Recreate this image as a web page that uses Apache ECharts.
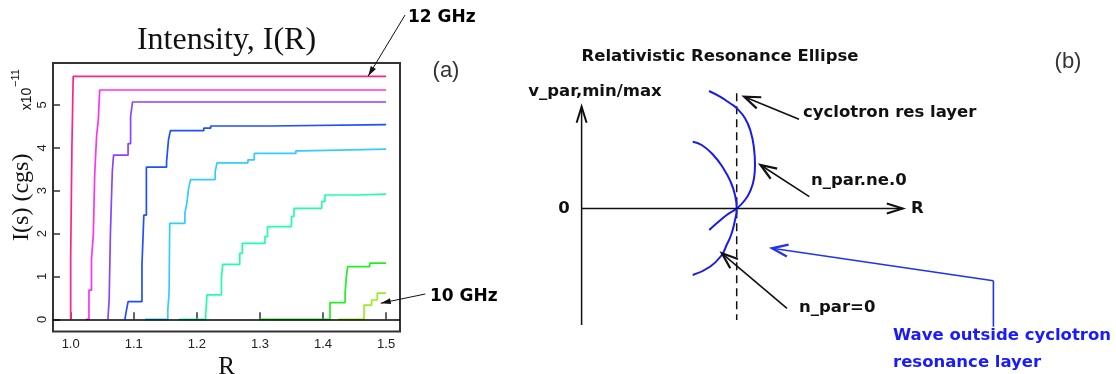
<!DOCTYPE html>
<html>
<head>
<meta charset="utf-8">
<script src="https://cdn.jsdelivr.net/npm/echarts@6/dist/echarts.min.js"></script>
<style>
html, body { margin: 0; padding: 0; background: #fff; }
#chart { width: 1116px; height: 374px; }
</style>
</head>
<body>
<div id="chart"></div>
<script>
// ---- panel (a): intensity I(R), curves from 12 GHz (top) to 10 GHz (bottom)
const xTicks = [1.0, 1.1, 1.2, 1.3, 1.4, 1.5];
const yTicks = [0, 1, 2, 3, 4, 5];

const curve1 = [[1.000, 0], [1.000, 1.42], [1.002, 4.04], [1.004, 5.67], [1.5, 5.67]];
const curve2 = [[1.024, 0], [1.029, 0.68], [1.033, 1.4], [1.036, 2.0], [1.038, 3.35], [1.041, 4.25], [1.044, 4.7], [1.046, 5.35], [1.5, 5.35]];
const curve3 = [[1.059, 0], [1.061, 0.45], [1.063, 2.0], [1.066, 3.45], [1.068, 3.83], [1.091, 4.1], [1.095, 4.73], [1.098, 5.07], [1.5, 5.07]];
const curve4 = [[1.086, 0], [1.088, 0.18], [1.091, 0.41], [1.113, 1.27], [1.116, 2.43], [1.120, 3.55], [1.152, 3.68], [1.155, 4.18], [1.158, 4.40], [1.211, 4.46], [1.222, 4.51], [1.316, 4.54], [1.5, 4.54]];
const curve5 = [[1.118, 0], [1.154, 0.22], [1.156, 0.64], [1.157, 2.24], [1.181, 2.47], [1.184, 2.7], [1.187, 3.06], [1.190, 3.26], [1.229, 3.44], [1.232, 3.65], [1.281, 3.72], [1.291, 3.87], [1.357, 3.93], [1.367, 3.97], [1.5, 3.97]];
const curve6 = [[1.172, 0], [1.214, 0.1], [1.216, 0.57], [1.239, 0.96], [1.241, 1.28], [1.268, 1.54], [1.272, 1.77], [1.308, 1.93], [1.312, 2.16], [1.350, 2.4], [1.354, 2.59], [1.398, 2.75], [1.403, 2.9], [1.453, 2.92], [1.5, 2.92]];
const curve7 = [[1.300, 0], [1.411, 0.39], [1.435, 0.61], [1.437, 1.0], [1.439, 1.23], [1.474, 1.31], [1.5, 1.31]];
const curve8 = [[1.424, 0], [1.465, 0.33], [1.477, 0.45], [1.486, 0.61], [1.5, 0.61]];

// pointer arrows of panel (a): [fromR, fromI, toR, toI]
const arrow12 = [1.530, 7.10, 1.4716, 5.675];
const arrow10 = [1.562, 0.59, 1.4915, 0.375];

// ---- panel (b): schematic, units with origin where the two axes cross
const outerArc = [[12.74, 11.75], [13.84, 11.18], [14.84, 10.52], [15.51, 10.02], [16.34, 9.02], [16.91, 7.68], [17.24, 6.02], [17.34, 4.35], [17.24, 3.02], [16.91, 1.85], [16.34, 0.85], [15.51, 0], [14.51, -0.65], [13.51, -1.48], [12.77, -2.15]];
const innerArc = [[11.11, 6.68], [12.01, 6.35], [13.17, 5.35], [14.17, 4.02], [14.9, 2.68], [15.34, 1.35], [15.51, 0], [15.3, -1.35], [14.95, -2.65], [14.5, -3.65], [14.01, -4.65], [12.84, -5.82], [11.11, -6.65]];
const resLayer = [[15.51, 11.52], [15.51, -11.15]];
// [x1, y1, x2, y2] segments, head at the second point
const axisArrows = [[0, -11.65, 0, 10.18], [0, 0, 32.12, 0]];
const labelArrows = [[21.74, 8.92, 16.26, 11.18], [22.77, 1.18, 17.89, 4.35], [20.54, -9.98, 14.03, -4.48]];
const blueTail = [[41.18, -11.82, 41.18, -7.22]];
const blueArrow = [[41.18, -7.22, 19.03, -3.98]];

const colors = ['#ff2288', '#ff33ee', '#8844ff', '#1f4fff', '#33ccff', '#22ffaa', '#22ee22', '#99ee22'];
const curves = [curve1, curve2, curve3, curve4, curve5, curve6, curve7, curve8];

const SANS_B = '"DejaVu Sans"';

// draws a straight segment with an optional head at its end, in axis coords
function arrowSeries(data, xi, color, width, head) {
    return {
        type: 'custom',
        xAxisIndex: xi,
        yAxisIndex: xi,
        clip: false,
        z: 4,
        data: data,
        renderItem: function (params, api) {
            const a = api.coord([api.value(0), api.value(1)]);
            const b = api.coord([api.value(2), api.value(3)]);
            const children = [{
                type: 'line',
                shape: { x1: a[0], y1: a[1], x2: b[0], y2: b[1] },
                style: { stroke: color, lineWidth: width }
            }];
            if (head) {
                const dx = b[0] - a[0], dy = b[1] - a[1];
                const len = Math.sqrt(dx * dx + dy * dy);
                const ux = dx / len, uy = dy / len;
                const p1 = [b[0] - ux * head.len - uy * head.w, b[1] - uy * head.len + ux * head.w];
                const p2 = [b[0] - ux * head.len + uy * head.w, b[1] - uy * head.len - ux * head.w];
                if (head.fill) {
                    children.push({
                        type: 'polygon',
                        shape: { points: [p1, b, p2] },
                        style: { fill: color }
                    })
                } else {
                    children.push({
                        type: 'polyline',
                        shape: { points: [p1, b, p2] },
                        style: { stroke: color, lineWidth: head.lw || width, fill: null }
                    })
                }
            }
            return { type: 'group', children: children };
        }
    }
}

const chart = echarts.init(document.getElementById('chart'));

const series = [{
    type: 'line',
    xAxisIndex: 0,
    yAxisIndex: 0,
    data: [],
    z: 1,
    markLine: {
        silent: true,
        symbol: 'none',
        label: { show: false },
        lineStyle: { color: '#000', width: 1.6, type: 'solid' },
        data: [{ yAxis: 0 }]
    }
}];

curves.forEach((c, i) => {
    series.push({
        type: 'line',
        xAxisIndex: 0,
        yAxisIndex: 0,
        step: 'end',
        symbol: 'none',
        z: 2,
        data: c,
        lineStyle: { color: colors[i], width: 1.7 }
    })
})

series.push(arrowSeries([arrow12, arrow10], 0, '#111', 1, { len: 10, w: 3, fill: true }))

// panel (b)
const arcStyle = { color: '#1a1aee', width: 2 };
series.push(
    { type: 'line', xAxisIndex: 1, yAxisIndex: 1, smooth: true, symbol: 'none', data: outerArc, lineStyle: arcStyle, z: 3 },
    { type: 'line', xAxisIndex: 1, yAxisIndex: 1, smooth: true, symbol: 'none', data: innerArc, lineStyle: arcStyle, z: 3 },
    { type: 'line', xAxisIndex: 1, yAxisIndex: 1, symbol: 'none', data: resLayer, lineStyle: { color: '#111', width: 1.5, type: [8, 5] }, z: 2 },
    arrowSeries(axisArrows, 1, '#111', 1.5, { len: 16, w: 5, lw: 2 }),
    arrowSeries(labelArrows, 1, '#111', 1.6, { len: 16, w: 6, lw: 2.2 }),
    arrowSeries(blueTail, 1, '#2233ee', 1.6, null),
    arrowSeries(blueArrow, 1, '#2233ee', 1.6, { len: 16, w: 6, lw: 2.2 })
)

function txt(x, y, text, font, opts) {
    opts = opts || {};
    return {
        type: 'text',
        x: x,
        y: y,
        rotation: opts.rotation || 0,
        style: {
            text: text,
            font: font,
            fill: opts.fill || '#000',
            align: opts.align || 'center',
            textAlign: opts.align || 'center',
            verticalAlign: 'middle',
            textVerticalAlign: 'middle'
        }
    }
}

const bFont = 'bold 16.5px ' + SANS_B;

chart.setOption({
    backgroundColor: '#fff',
    animation: false,
    grid: [
        { left: 53, top: 63, width: 347, height: 268.5, show: true, borderColor: '#333', borderWidth: 2, backgroundColor: 'transparent', outerBoundsMode: 'none', containLabel: false },
        { left: 480, top: 30, width: 636, height: 344, outerBoundsMode: 'none', containLabel: false }
    ],
    xAxis: [{
        type: 'value',
        gridIndex: 0,
        min: 0.972,
        max: 1.522,
        axisLine: { show: false },
        splitLine: { show: false },
        axisTick: { inside: true, length: 7, customValues: xTicks, lineStyle: { color: '#333', width: 1.5 } },
        axisLabel: { customValues: xTicks, formatter: v => v.toFixed(1), margin: 6, fontSize: 13, fontFamily: 'Liberation Sans', color: '#222' },
        name: 'R',
        nameLocation: 'middle',
        nameGap: 15,
        nameTextStyle: { fontFamily: 'Liberation Serif', fontSize: 25, color: '#111' }
    }, {
        type: 'value',
        gridIndex: 1,
        min: -10.16,
        max: 53.44,
        show: false
    }],
    yAxis: [{
        type: 'value',
        gridIndex: 0,
        min: -0.285,
        max: 5.98,
        axisLine: { show: false },
        splitLine: { show: false },
        axisTick: { inside: true, length: 7, customValues: yTicks, lineStyle: { color: '#333', width: 1.5 } },
        axisLabel: { customValues: yTicks, rotate: 90, margin: 4, fontSize: 13, fontFamily: 'Liberation Sans', color: '#222' },
        name: 'I(s) (cgs)',
        nameLocation: 'middle',
        nameRotate: 90,
        nameGap: 19,
        nameTextStyle: { fontFamily: 'Liberation Serif', fontSize: 24, color: '#111' }
    }, {
        type: 'value',
        gridIndex: 1,
        min: -16.55,
        max: 17.85,
        show: false
    }],
    graphic: [
        txt(226.5, 41, 'Intensity, I(R)', '32px "Liberation Serif"', { fill: '#111' }),
        txt(446, 71, '(a)', '22px "Liberation Sans"', { fill: '#333' }),
        txt(408, 18, '12 GHz', 'bold 17px ' + SANS_B, { align: 'left' }),
        txt(430, 297, '10 GHz', 'bold 17px ' + SANS_B, { align: 'left' }),
        txt(27, 99, 'x10', '14px "Liberation Sans"', { rotation: Math.PI / 2, fill: '#111' }),
        txt(16, 78, '\u221211', '11px "Liberation Sans"', { rotation: Math.PI / 2, fill: '#111' }),
        txt(720, 57, 'Relativistic Resonance Ellipse', bFont, { fill: '#111' }),
        txt(1068, 62, '(b)', '22px "Liberation Sans"', { fill: '#333' }),
        txt(595, 92, 'v_par,min/max', bFont, { fill: '#111' }),
        txt(564, 209, '0', bFont, { fill: '#111' }),
        txt(911, 209, 'R', bFont, { align: 'left', fill: '#111' }),
        txt(803, 113, 'cyclotron res layer', bFont, { align: 'left', fill: '#111' }),
        txt(811, 181, 'n_par.ne.0', bFont, { align: 'left', fill: '#111' }),
        txt(799, 308, 'n_par=0', bFont, { align: 'left', fill: '#111' }),
        txt(893, 336, 'Wave outside cyclotron', bFont, { align: 'left', fill: '#1a1aff' }),
        txt(893, 363, 'resonance layer', bFont, { align: 'left', fill: '#1a1aff' })
    ],
    series: series
})
</script>
</body>
</html>
